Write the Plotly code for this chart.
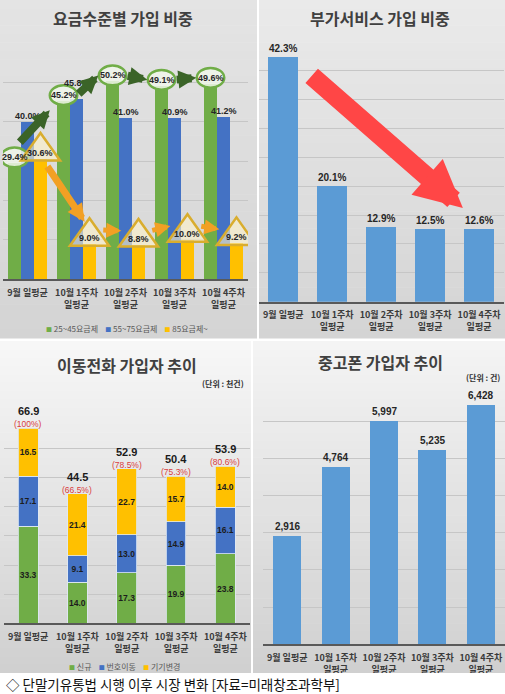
import plotly.graph_objects as go

W, H = 505, 694
KR = "Noto Sans CJK KR"
NUM = "Liberation Sans"

categories = ["9월 일평균", "10월 1주차<br>일평균", "10월 2주차<br>일평균",
              "10월 3주차<br>일평균", "10월 4주차<br>일평균"]

# 요금수준별 가입 비중 (%)
tier_names = ["25~45요금제", "55~75요금제", "85요금제~"]
tier_low = [29.4, 45.2, 50.2, 49.1, 49.6]
tier_mid = [40.0, 45.8, 41.0, 40.9, 41.2]
tier_high = [30.6, 9.0, 8.8, 10.0, 9.2]

# 부가서비스 가입 비중 (%)
addon_share = [42.3, 20.1, 12.9, 12.5, 12.6]

# 이동전화 가입자 추이 (천건)
sub_names = ["신규", "번호이동", "기기변경"]
sub_new = [33.3, 14.0, 17.3, 19.9, 23.8]
sub_mnp = [17.1, 9.1, 13.0, 14.9, 16.1]
sub_change = [16.5, 21.4, 22.7, 15.7, 14.0]
sub_total = [66.9, 44.5, 52.9, 50.4, 53.9]
sub_ratio = [100, 66.5, 78.5, 75.3, 80.6]

# 중고폰 가입자 추이 (건)
used_phone = [2916, 4764, 5997, 5235, 6428]

GREEN, BLUE, GOLD, SKY = "#70ad47", "#4472c4", "#ffc000", "#5b9bd5"


def px_x(v):
    return v / W


def px_y(v):
    return 1 - v / H


def mix(c1, c2, t):
    a = [int(c1[i:i + 2], 16) for i in (1, 3, 5)]
    b = [int(c2[i:i + 2], 16) for i in (1, 3, 5)]
    return "rgb(%d,%d,%d)" % tuple(round(a[i] + (b[i] - a[i]) * t) for i in range(3))


shapes = []
ann = []


def panel_bg(x0, x1, y0, y1, top, bottom, n=40):
    # fake vertical gradient with thin bands
    for j in range(n):
        shapes.append(dict(type="rect", xref="paper", yref="paper", layer="below",
                           x0=px_x(x0), x1=px_x(x1),
                           y0=px_y(y0 + (y1 - y0) * j / n),
                           y1=px_y(y0 + (y1 - y0) * (j + 1) / n + 0.5),
                           fillcolor=mix(top, bottom, (j + 0.5) / n), line_width=0))


panel_bg(0, 257, 0, 338, "#e4e4e4", "#d4d4d4")
panel_bg(259, 505, 0, 338, "#eaeaea", "#d4d4d4")
panel_bg(0, 251, 341, 673, "#f7f7f7", "#d0d0d0")
panel_bg(253, 505, 341, 673, "#f4f4f4", "#d0d0d0")

fig = go.Figure()
idx = list(range(len(categories)))

# ---- 요금수준별 가입 비중
w = 0.265
for k, (vals, col, name) in enumerate(zip([tier_low, tier_mid, tier_high],
                                          [GREEN, BLUE, GOLD], tier_names)):
    fig.add_trace(go.Bar(x=[i + (k - 1) * w for i in idx], y=vals, width=w,
                         marker=dict(color=col, line_width=0), name=name,
                         xaxis="x", yaxis="y", showlegend=False, hoverinfo="skip"))

lbl_font = dict(family=NUM, size=9, color="#262626")
for i in idx:
    g, b, h = tier_low[i], tier_mid[i], tier_high[i]
    # ellipse round green label
    shapes.append(dict(type="circle", xref="x", yref="y", layer="above",
                       x0=i - w - 0.28, x1=i - w + 0.28, y0=g + 1.5 - 2.5, y1=g + 1.5 + 2.5,
                       line=dict(color=GREEN, width=2.5), fillcolor="rgba(240,246,234,0.85)"))
    # triangle round gold label
    cx = i + w
    shapes.append(dict(type="path", xref="x", yref="y", layer="above",
                       path=f"M {cx - 0.4},{h - 0.5} L {cx + 0.4},{h - 0.5} L {cx},{h + 6.5} Z",
                       line=dict(color="#d9ad2e", width=2.5), fillcolor="rgba(255,243,200,0.6)"))
    ann.append(dict(x=i - w, y=g + 1.5, xref="x", yref="y", text=f"<b>{g:.1f}%</b>",
                    showarrow=False, font=lbl_font))
    by = b + 1.5 + (2.5 if abs(b - g) < 3 else 0)
    ann.append(dict(x=i, y=by, xref="x", yref="y", text=f"<b>{b:.1f}%</b>",
                    showarrow=False, font=lbl_font))
    ann.append(dict(x=cx, y=h + 1.5, xref="x", yref="y", text=f"<b>{h:.1f}%</b>",
                    showarrow=False, font=lbl_font))


def arrow(tail, head, ref, color, width, size):
    ann.append(dict(x=head[0], y=head[1], ax=tail[0], ay=tail[1],
                    xref="x" + ref, yref="y" + ref, axref="x" + ref, ayref="y" + ref,
                    text="", showarrow=True, arrowhead=2, arrowsize=size,
                    arrowwidth=width, arrowcolor=color, standoff=0))


for k in range(len(idx) - 1):
    if k == 0:
        arrow((k - w + 0.08, tier_low[k] + 5), (k + 1 - w - 0.28, tier_low[k + 1] - 2.3),
              "", "#3b6428", 8, 0.45)
        arrow((k + w + 0.12, tier_high[k] - 1.6), (k + 1 + w - 0.1, tier_high[k + 1] + 5.6),
              "", "#f2a024", 7, 0.5)
    else:
        arrow((k - w + 0.28, tier_low[k] + 1.5), (k + 1 - w - 0.29, tier_low[k + 1] + 1.5),
              "", "#3b6428", 8, 0.45)
        arrow((k + w + 0.25, tier_high[k] + 3.5), (k + 1 + w - 0.35, tier_high[k + 1] + 3.5),
              "", "#f2a024", 5, 0.6)

# ---- 부가서비스 가입 비중
fig.add_trace(go.Bar(x=idx, y=addon_share, width=0.61, marker=dict(color=SKY, line_width=0),
                     xaxis="x2", yaxis="y2", showlegend=False, hoverinfo="skip"))
for i, v in zip(idx, addon_share):
    ann.append(dict(x=i, y=v, xref="x2", yref="y2", yanchor="bottom", yshift=1,
                    text=f"<b>{v:.1f}%</b>", showarrow=False,
                    font=dict(family=NUM, size=10, color="#262626")))
arrow((0.55, addon_share[0] - 3), (3.67, addon_share[-1] + 3.6), "2", "#ff4646", 19, 0.5)

# ---- 이동전화 가입자 추이
for vals, col, name in zip([sub_new, sub_mnp, sub_change], [GREEN, BLUE, GOLD], sub_names):
    fig.add_trace(go.Bar(x=idx, y=vals, width=0.4, name=name,
                         marker=dict(color=col, line=dict(color="#dfe8f5", width=0.8)),
                         texttemplate="<b>%{y:.1f}</b>", textposition="inside",
                         insidetextanchor="middle", textangle=0, constraintext="none",
                         textfont=dict(family=NUM, size=8.5, color="#1c1c1c"),
                         xaxis="x3", yaxis="y3", showlegend=False, hoverinfo="skip"))
for i, t, r in zip(idx, sub_total, sub_ratio):
    ann.append(dict(x=i, y=t, xref="x3", yref="y3", yshift=17, text=f"<b>{t:.1f}</b>",
                    showarrow=False, font=dict(family=NUM, size=11, color="#1a1a1a")))
    rtxt = f"({r:g}%)" if r == 100 else f"({r:.1f}%)"
    ann.append(dict(x=i, y=t, xref="x3", yref="y3", yshift=4, text=rtxt,
                    showarrow=False, font=dict(family=NUM, size=8.5, color="#d94040")))

# ---- 중고폰 가입자 추이
fig.add_trace(go.Bar(x=idx, y=used_phone, width=0.58, marker=dict(color=SKY, line_width=0),
                     xaxis="x4", yaxis="y4", showlegend=False, hoverinfo="skip"))
for i, v in zip(idx, used_phone):
    ann.append(dict(x=i, y=v, xref="x4", yref="y4", yanchor="bottom", yshift=2,
                    text=f"<b>{v:,}</b>", showarrow=False,
                    font=dict(family=NUM, size=10, color="#262626")))

# titles, units, legends
title_font = dict(family=KR, size=16, color="#404040")
for txt, x, y in [("요금수준별 가입 비중", 123, 18), ("부가서비스 가입 비중", 380, 18),
                  ("이동전화 가입자 추이", 127, 365), ("중고폰 가입자 추이", 380, 362)]:
    ann.append(dict(x=px_x(x), y=px_y(y), xref="paper", yref="paper", text=f"<b>{txt}</b>",
                    xanchor="center", yanchor="middle", showarrow=False, font=title_font))
unit_font = dict(family=KR, size=8, color="#333333")
ann.append(dict(x=px_x(246), y=px_y(383), xref="paper", yref="paper", xanchor="right",
                yanchor="middle", text="<b>(단위 : 천건)</b>", showarrow=False, font=unit_font))
ann.append(dict(x=px_x(502), y=px_y(377), xref="paper", yref="paper", xanchor="right",
                yanchor="middle", text="<b>(단위 : 건)</b>", showarrow=False, font=unit_font))


def legend_text(names, colors):
    return "&nbsp;&nbsp;&nbsp;&nbsp;".join(
        f"<span style='color:{c};font-size:6px'>■</span>&nbsp;{n}" for n, c in zip(names, colors))


leg_font = dict(family=KR, size=8, color="#595959")
ann.append(dict(x=px_x(127), y=px_y(328), xref="paper", yref="paper", showarrow=False,
                xanchor="center", yanchor="middle",
                text=legend_text(tier_names, [GREEN, BLUE, GOLD]), font=leg_font))
ann.append(dict(x=px_x(124), y=px_y(666), xref="paper", yref="paper", showarrow=False,
                xanchor="center", yanchor="middle",
                text=legend_text(sub_names, [GREEN, BLUE, GOLD]), font=leg_font))

# caption strip
shapes.append(dict(type="rect", xref="paper", yref="paper", layer="above",
                   x0=0, x1=1, y0=0, y1=px_y(673), fillcolor="white", line_width=0))
ann.append(dict(x=px_x(4), y=px_y(684), xref="paper", yref="paper", xanchor="left",
                yanchor="middle", text="◇ 단말기유통법 시행 이후 시장 변화 [자료=미래창조과학부]",
                showarrow=False, font=dict(family=KR, size=13.5, color="#111111")))


def xax(dom, anchor):
    return dict(domain=[px_x(dom[0]), px_x(dom[1])], anchor=anchor, range=[-0.5, 4.5],
                tickvals=idx, ticktext=[f"<b>{c}</b>" for c in categories],
                tickfont=dict(family=KR, size=9, color="#3a3a3a"),
                showgrid=False, zeroline=False, showline=True, linecolor="#595959",
                linewidth=1.5, ticks="", ticklabelstandoff=4, fixedrange=True)


def yax(dom, anchor, rng, dtick):
    return dict(domain=[px_y(dom[1]), px_y(dom[0])], anchor=anchor, range=rng, dtick=dtick,
                showticklabels=False, showgrid=True, gridcolor="#c6c6c6", gridwidth=1,
                zeroline=False, showline=False, ticks="", fixedrange=True)


fig.update_layout(
    width=W, height=H, margin=dict(l=0, r=0, t=0, b=0),
    paper_bgcolor="white", plot_bgcolor="rgba(0,0,0,0)",
    barmode="stack", showlegend=False,
    xaxis=xax((3, 248), "y"), yaxis=yax((42.7, 279.3), "x", [0, 60], 10),
    xaxis2=xax((258.8, 503.5), "y2"), yaxis2=yax((41.7, 301.7), "x2", [0, 45], 5),
    xaxis3=xax((3.5, 250), "y3"), yaxis3=yax((419.3, 623.3), "x3", [0, 70], 10),
    xaxis4=xax((263, 505), "y4"), yaxis4=yax((384, 644.3), "x4", [0, 7000], 1000),
    shapes=shapes, annotations=ann,
)

# the page must not add its own margin round the 505x694 figure
fig.write_html("out.html", config={"displayModeBar": False},
               post_script="document.body.style.margin='0px';")
